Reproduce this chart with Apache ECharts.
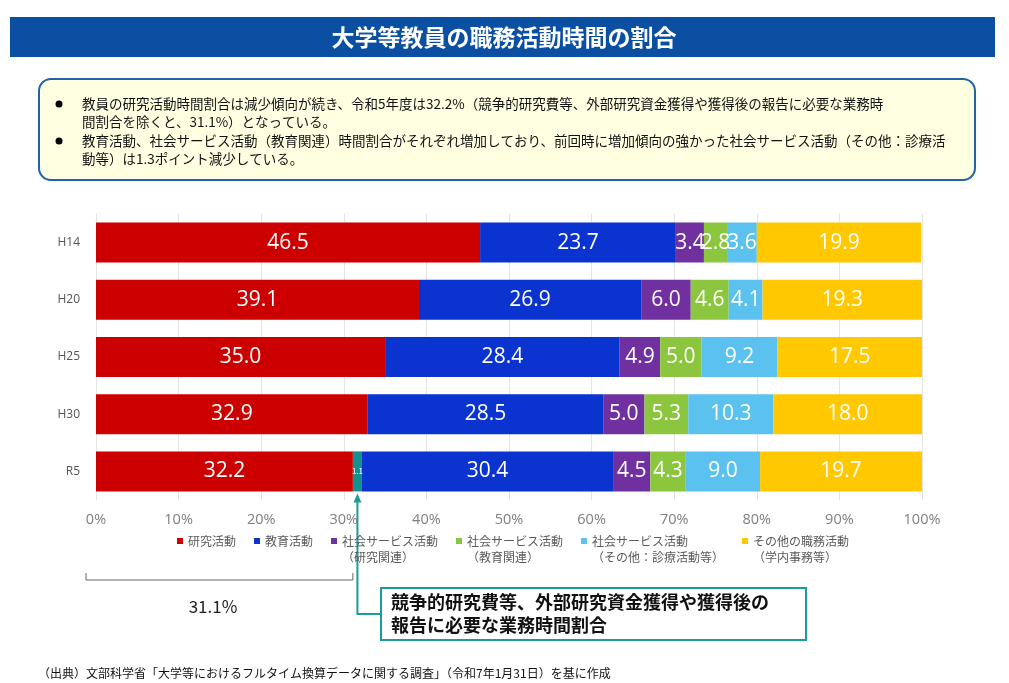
<!DOCTYPE html>
<html>
<head>
<meta charset="utf-8">
<script src="https://cdn.jsdelivr.net/npm/echarts@6/dist/echarts.min.js"></script>
<style>
  html, body { margin: 0; padding: 0; background: #fff; }
  #main { width: 1009px; height: 683px; }
</style>
</head>
<body>
<div id="main"></div>
<script>
  // 年度
  let years = ['H14', 'H20', 'H25', 'H30', 'R5'];
  // 職務活動時間割合 (%)
  let research = [46.5, 39.1, 35.0, 32.9, 32.2];
  let competitive = [0, 0, 0, 0, 1.1];   // 研究活動のうち競争的研究費等
  let education = [23.7, 26.9, 28.4, 28.5, 30.4];
  let socialResearch = [3.4, 6.0, 4.9, 5.0, 4.5];
  let socialEducation = [2.8, 4.6, 5.0, 5.3, 4.3];
  let socialOther = [3.6, 4.1, 9.2, 10.3, 9.0];
  let otherDuties = [19.9, 19.3, 17.5, 18.0, 19.7];

  let seriesNames = ['研究活動', '教育活動', '社会サービス活動（研究関連）', '社会サービス活動（教育関連）',
    '社会サービス活動（その他：診療活動等）', 'その他の職務活動（学内事務等）'];
  let colors = ['#CC0000', '#0B33D0', '#7030A0', '#8CC63F', '#5BC2F0', '#FFC800'];

  let font = "'Noto Sans CJK JP', 'Noto Sans', sans-serif";
  let numFont = "'Open Sans', 'Noto Sans', sans-serif";

  let barLabel = {
    show: true,
    position: 'inside',
    color: '#fff',
    fontSize: 21,
    fontFamily: numFont,
    formatter: function (p) { return p.value.toFixed(1); }
  };

  function makeBar(name, data, color, extra) {
    return Object.assign({
      name: name,
      type: 'bar',
      stack: 'total',
      barWidth: 40,
      data: data,
      itemStyle: { color: color },
      label: barLabel
    }, extra || {});
  }

  let researchOnly = research.map(function (v, i) { return +(v - competitive[i]).toFixed(1); });

  let option = {
    backgroundColor: '#fff',
    animation: false,
    textStyle: { fontFamily: font },
    grid: {
      left: 96,
      right: 87,
      top: 214,
      bottom: 183
    },
    legend: {
      top: 512,
      left: 172,
      icon: 'rect',
      itemWidth: 6,
      itemHeight: 6,
      itemGap: 18,
      selectedMode: false,
      data: seriesNames,
      // 2行の凡例は先頭に空行を入れて1行目をマーカーの高さに合わせる
      formatter: function (n) {
        return n.indexOf('（') >= 0 ? ' \n' + n.replace('（', '\n（') : n;
      },
      textStyle: { fontSize: 12, color: '#5a5a5a', lineHeight: 16, fontFamily: font }
    },
    xAxis: {
      type: 'value',
      min: 0,
      max: 100,
      interval: 10,
      axisLine: { show: false },
      axisTick: { show: false },
      axisLabel: {
        formatter: '{value}%',
        color: '#808080',
        fontSize: 14.5,
        fontFamily: numFont,
        margin: 12
      },
      splitLine: { lineStyle: { color: '#e4e4e4' } }
    },
    yAxis: {
      type: 'category',
      inverse: true,
      data: years,
      axisLine: { show: false },
      axisTick: { show: false },
      axisLabel: { color: '#555', fontSize: 12, fontFamily: numFont, margin: 16 }
    },
    series: [
      makeBar(seriesNames[0], researchOnly, colors[0], {
        label: Object.assign({}, barLabel, {
          formatter: function (p) { return research[p.dataIndex].toFixed(1); }
        })
      }),
      makeBar('競争的研究費等', competitive, '#12918E', {
        label: {
          show: true, position: 'inside', color: '#fff', fontSize: 8,
          formatter: function (p) { return p.value ? p.value.toFixed(1) : ''; }
        }
      }),
      makeBar(seriesNames[1], education, colors[1]),
      makeBar(seriesNames[2], socialResearch, colors[2]),
      makeBar(seriesNames[3], socialEducation, colors[3]),
      makeBar(seriesNames[4], socialOther, colors[4]),
      makeBar(seriesNames[5], otherDuties, colors[5])
    ]
  };

  var myChart = echarts.init(document.getElementById('main'));
  myChart.setOption(option);

  // 注記 (31.1% の括弧と矢印)
  let x0 = myChart.convertToPixel({ gridIndex: 0 }, [0, 'R5'])[0];
  let xCut = myChart.convertToPixel({ gridIndex: 0 }, [research[4] - competitive[4], 'R5'])[0];
  let xArrow = myChart.convertToPixel({ gridIndex: 0 }, [research[4] - competitive[4] / 2, 'R5'])[0];
  let barBottom = myChart.convertToPixel({ gridIndex: 0 }, [0, 'R5'])[1] + 21;
  let teal = '#1A9C9A';

  let noteLines = [
    '教員の研究活動時間割合は減少傾向が続き、令和5年度は32.2%（競争的研究費等、外部研究資金獲得や獲得後の報告に必要な業務時',
    '間割合を除くと、31.1%）となっている。',
    '教育活動、社会サービス活動（教育関連）時間割合がそれぞれ増加しており、前回時に増加傾向の強かった社会サービス活動（その他：診療活',
    '動等）は1.3ポイント減少している。'
  ];
  let noteY = [104, 122, 141, 159];

  let graphics = [
    { type: 'rect', shape: { x: 10, y: 17, width: 985, height: 40 }, style: { fill: '#0B4FA2' } },
    {
      type: 'text', x: 504, y: 37,
      style: { text: '大学等教員の職務活動時間の割合', fill: '#fff', font: 'bold 23px ' + font, textAlign: 'center', textVerticalAlign: 'middle' }
    },
    {
      type: 'rect', shape: { x: 39, y: 79, width: 936, height: 101, r: 12 },
      style: { fill: '#FFFFE1', stroke: '#2462AA', lineWidth: 2 }
    },
    { type: 'circle', shape: { cx: 59, cy: 104, r: 3.5 }, style: { fill: '#000' } },
    { type: 'circle', shape: { cx: 59, cy: 141, r: 3.5 }, style: { fill: '#000' } }
  ];
  noteLines.forEach(function (t, i) {
    graphics.push({
      type: 'text', x: 82, y: noteY[i],
      style: { text: t, fill: '#111', font: '13.5px ' + font, textVerticalAlign: 'middle' }
    });
  });

  graphics = graphics.concat([
    // bracket
    {
      type: 'polyline',
      shape: { points: [[x0 - 10, 573], [x0 - 10, 580], [xCut, 580], [xCut, 573]] },
      style: { stroke: '#666', lineWidth: 1, fill: null }
    },
    {
      type: 'text', x: 213, y: 607,
      style: { text: '31.1%', fill: '#222', font: '17px ' + font, textAlign: 'center', textVerticalAlign: 'middle' }
    },
    // arrow
    {
      type: 'polyline',
      shape: { points: [[xArrow, barBottom + 8], [xArrow, 614], [381, 614]] },
      style: { stroke: teal, lineWidth: 2, fill: null }
    },
    {
      type: 'polygon',
      shape: { points: [[xArrow, barBottom + 1], [xArrow - 4, barBottom + 10], [xArrow + 4, barBottom + 10]] },
      style: { fill: teal }
    },
    {
      type: 'rect', shape: { x: 381, y: 588, width: 425, height: 52 },
      style: { fill: '#fff', stroke: teal, lineWidth: 2 }
    },
    {
      type: 'text', x: 391, y: 602,
      style: { text: '競争的研究費等、外部研究資金獲得や獲得後の', fill: '#111', font: 'bold 18px ' + font, textVerticalAlign: 'middle' }
    },
    {
      type: 'text', x: 391, y: 625,
      style: { text: '報告に必要な業務時間割合', fill: '#111', font: 'bold 18px ' + font, textVerticalAlign: 'middle' }
    },
    {
      type: 'text', x: 38, y: 673,
      style: { text: '（出典）文部科学省「大学等におけるフルタイム換算データに関する調査」（令和7年1月31日）を基に作成', fill: '#111', font: '12px ' + font, textVerticalAlign: 'middle' }
    }
  ]);

  myChart.setOption({ graphic: graphics });
</script>
</body>
</html>
